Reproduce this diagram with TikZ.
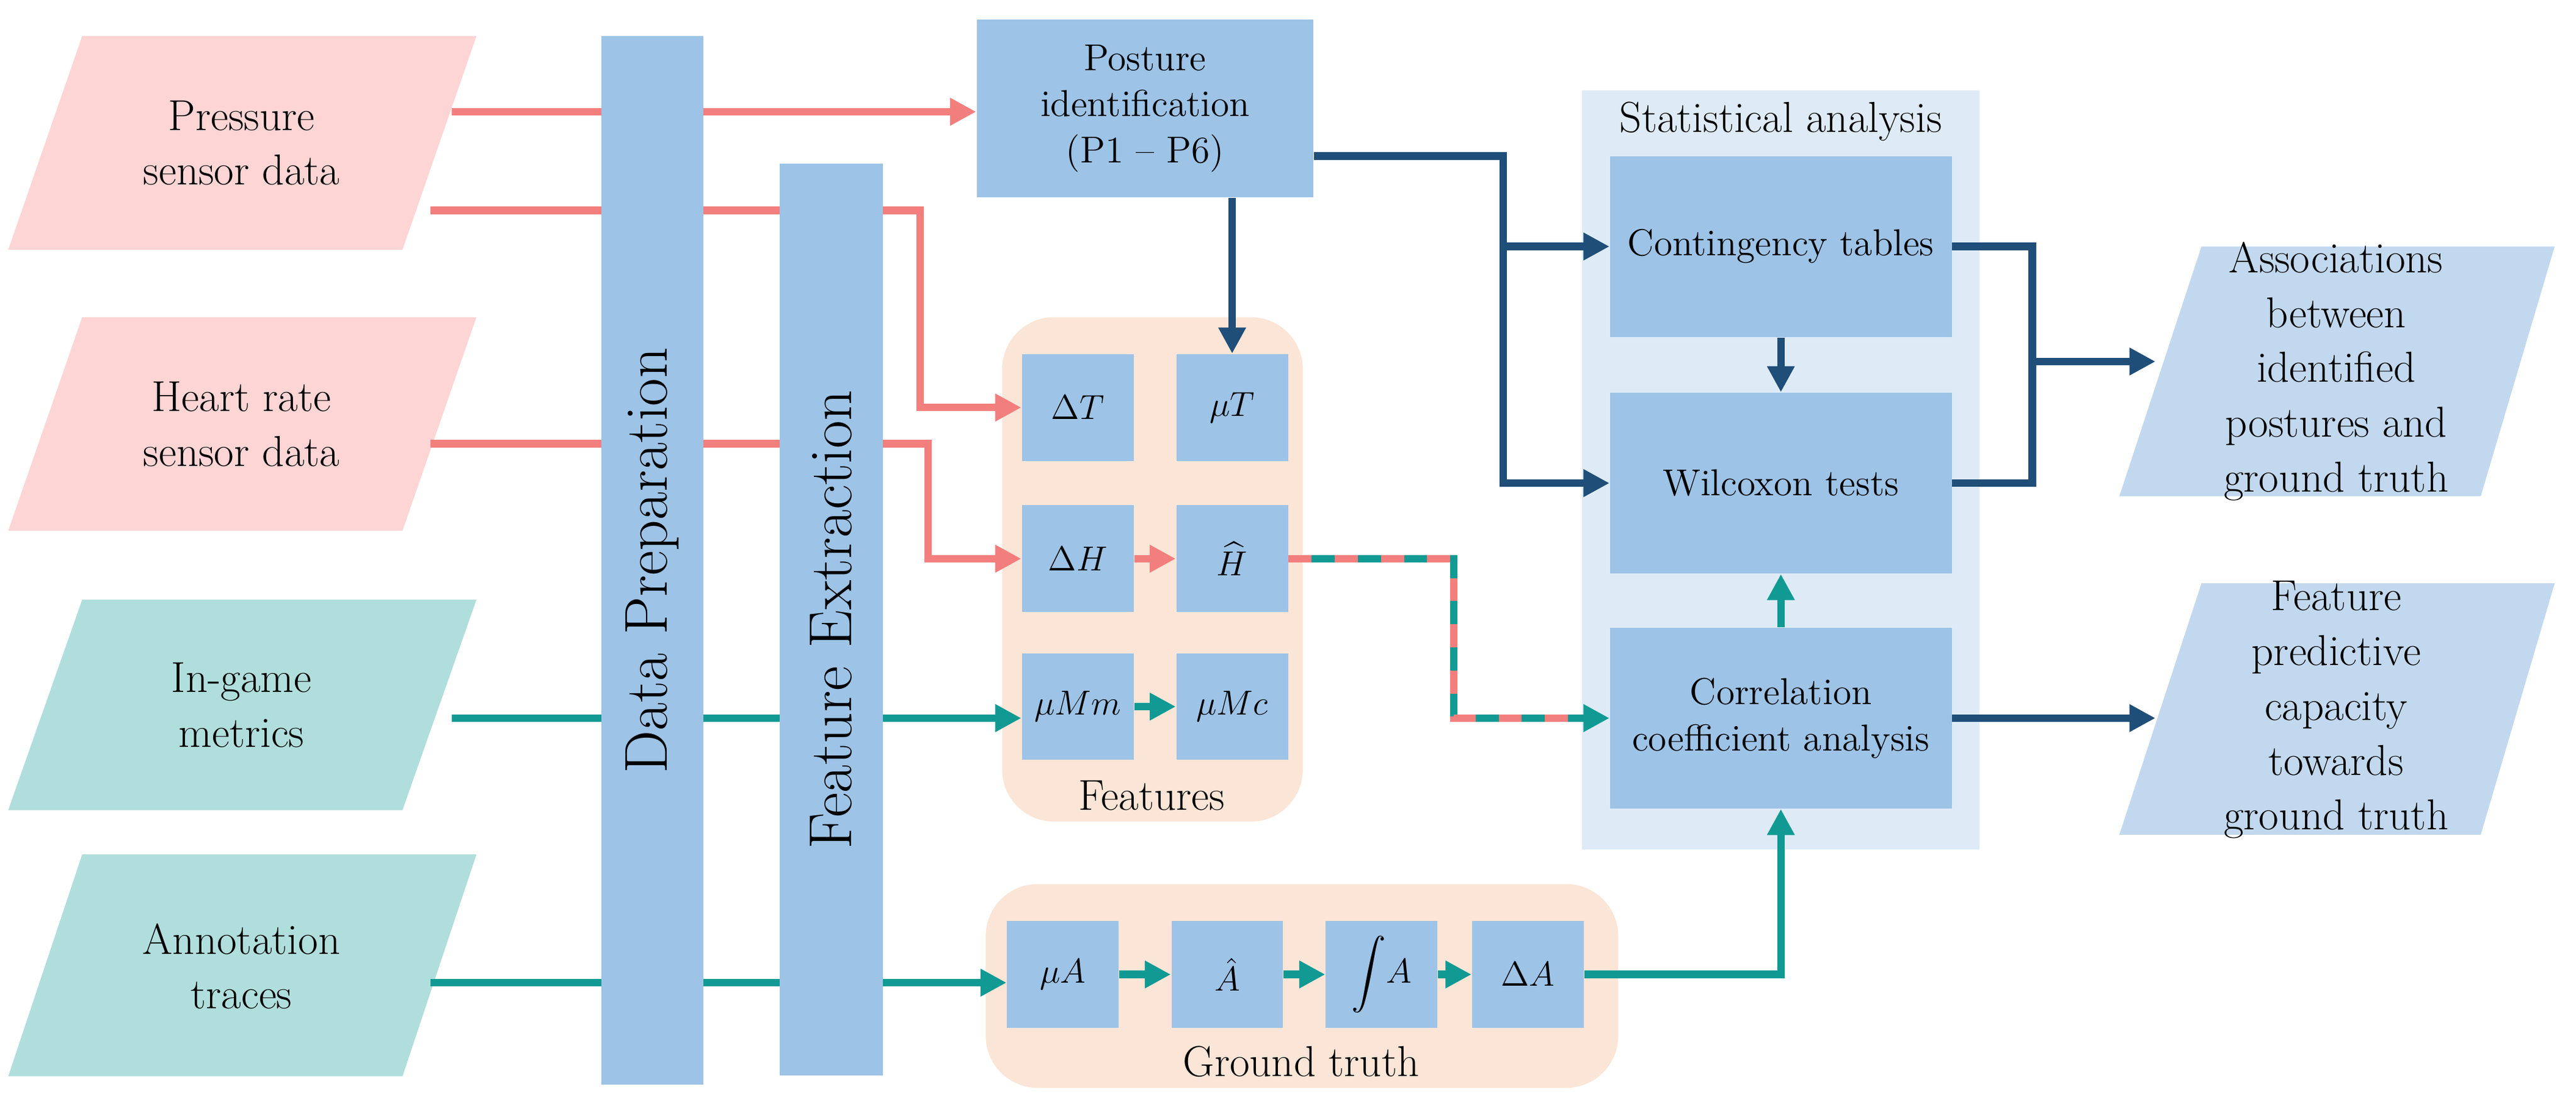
\documentclass[tikz,border=0pt]{standalone}
\usepackage{amsmath}
\usetikzlibrary{arrows.meta}
\definecolor{inpink}{HTML}{FDD5D5}
\definecolor{inteal}{HTML}{B0DEDC}
\definecolor{boxblue}{HTML}{9DC3E6}
\definecolor{peach}{HTML}{FBE5D6}
\definecolor{statbg}{HTML}{DEEBF7}
\definecolor{outblue}{HTML}{C2D8EE}
\definecolor{lpink}{HTML}{F27F7D}
\definecolor{lteal}{HTML}{119A94}
\definecolor{ldark}{HTML}{1F4E79}
\tikzset{
  box/.style={fill=boxblue, inner sep=2pt, align=center, font=\fontsize{13}{16}\selectfont},
  small/.style={box, minimum width=1.36cm, minimum height=1.3cm},
  stat/.style={box, minimum width=4.16cm, minimum height=2.2cm},
  bar/.style={fill=boxblue, rotate=90, font=\fontsize{21}{25}\selectfont},
  txt/.style={align=center, font=\fontsize{15}{19}\selectfont},
  pk/.style={draw=lpink, line width=2.6pt, -{Triangle[length=9pt,width=9pt]}},
  tl/.style={draw=lteal, line width=2.6pt, -{Triangle[length=9pt,width=9pt]}},
  dk/.style={draw=ldark, line width=2.6pt, -{Triangle[length=9pt,width=9pt]}},
}
\begin{document}
\begin{tikzpicture}[x=0.02cm, y=-0.02cm]
    \useasboundingbox (0,0) rectangle (1568,673);

    % Backgrounds
    \fill[statbg] (963,55) rectangle (1205,517);
    \node[txt] (statlbl) at (1084,74) {Statistical analysis};
    \fill[peach, rounded corners=18pt] (610,193) rectangle (793,500);
    \node[txt] (featlbl) at (701,484) {Features};
    \fill[peach, rounded corners=18pt] (600,538) rectangle (985,662);
    \node[txt] (gtlbl) at (792,646) {Ground truth};

    % Inputs
    \fill[inpink] (50,22) -- (290,22) -- (245,152) -- (5,152) -- cycle;
    \node[txt] (press) at (147,87) {Pressure\\sensor data};
    \fill[inpink] (50,193) -- (290,193) -- (245,323) -- (5,323) -- cycle;
    \node[txt] (heart) at (147,258) {Heart rate\\sensor data};
    \fill[inteal] (50,365) -- (290,365) -- (245,493) -- (5,493) -- cycle;
    \node[txt] (game) at (147,429) {In-game\\metrics};
    \fill[inteal] (50,520) -- (290,520) -- (245,655) -- (5,655) -- cycle;
    \node[txt] (annot) at (147,588) {Annotation\\traces};

    % Outputs
    \fill[outblue] (1340,150) -- (1555,150) -- (1510,302) -- (1290,302) -- cycle;
    \node[txt] (assoc) at (1422,226) {Associations\\between\\identified\\postures and\\ground truth};
    \fill[outblue] (1340,355) -- (1555,355) -- (1510,508) -- (1290,508) -- cycle;
    \node[txt] (pred) at (1422,432) {Feature\\predictive\\capacity\\towards\\ground truth};

    % Boxes
    \node[box, minimum width=4.1cm, minimum height=2.16cm] (post) at (697,66) {Posture\\identification\\(P1 -- P6)};
    \node[small] (dT) at (656,248) {$\Delta T$};
    \node[small] (mT) at (750,248) {$\mu T$};
    \node[small] (dH) at (656,340) {$\Delta H$};
    \node[small] (hH) at (750,340) {$\widehat{H}$};
    \node[small] (mMm) at (656,430) {$\mu Mm$};
    \node[small] (mMc) at (750,430) {$\mu Mc$};
    \node[small] (mA) at (647,593) {$\mu A$};
    \node[small] (hA) at (747,593) {$\hat{A}$};
    \node[small] (iA) at (841,593) {$\displaystyle\int\! A$};
    \node[small] (dA) at (930,593) {$\Delta A$};
    \node[stat] (cont) at (1084,150) {Contingency tables};
    \node[stat] (wil) at (1084,294) {Wilcoxon tests};
    \node[stat] (corr) at (1084,437) {Correlation\\coefficient analysis};

    % Input lines
    \coordinate (p1) at (275,68);
    \coordinate (p2) at (262,128);
    \coordinate (h1) at (262,270);
    \coordinate (g1) at (275,437);
    \coordinate (a1) at (262,598);
    \draw[pk] (p1) -- (post.west |- p1);
    \draw[pk] (p2) -| (560,248) -- (dT.west);
    \draw[pk] (h1) -| (565,340) -- (dH.west);
    \draw[pk] (dH) -- (hH);
    \draw[tl] (g1) -- (mMm.west |- g1);
    \draw[tl] (mMm) -- (mMc);
    \draw[tl] (a1) -- (mA.west |- a1);
    \draw[tl] (mA) -- (hA);
    \draw[tl] (hA) -- (iA);
    \draw[tl] (iA) -- (dA);
    \draw[tl] (dA.east) -| (corr.south);
    \draw[tl] (hH.east) -| (885,437) -- (corr.west);
    \draw[draw=lpink, line width=2.6pt, dash pattern=on 8pt off 8pt] (hH.east) -| (885,437) -- ([xshift=-12pt]corr.west);

    % Bars
    \node[bar, minimum width=12.76cm, minimum height=1.24cm] (prep) at (397,341) {Data Preparation};
    \node[bar, minimum width=11.1cm, minimum height=1.26cm] (fext) at (506,377) {Feature Extraction};

    % Analysis lines
    \coordinate (j1) at (915,95);
    \coordinate (j2) at (1237,220);
    \draw[dk] (mT.north |- post.south) -- (mT.north);
    \draw[dk] (post.east |- j1) -| (915,150) -- (cont.west);
    \draw[dk] (j1) |- (wil.west);
    \draw[dk] (cont) -- (wil);
    \draw[tl] (corr) -- (wil);
    \draw[draw=ldark, line width=2.6pt] (cont.east) -| (j2) |- (wil.east);
    \draw[dk] (j2) -- (1312,220);
    \draw[dk] (corr.east) -- (1312,437);
\end{tikzpicture}
\end{document}
